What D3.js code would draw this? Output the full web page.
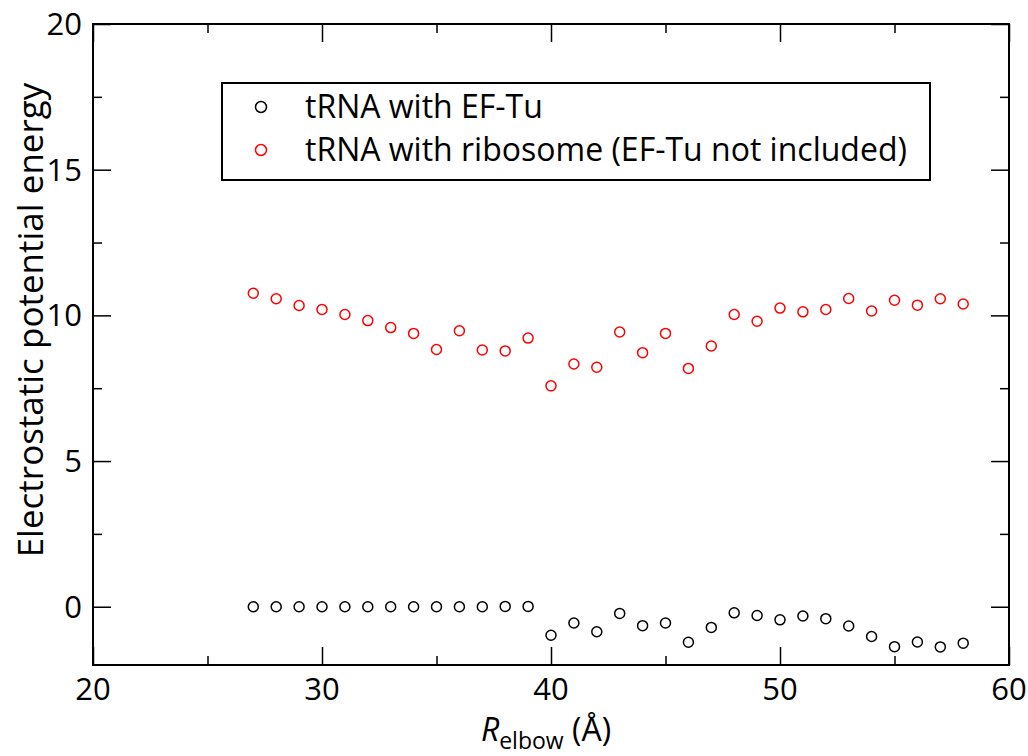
<!DOCTYPE html>
<html><head><meta charset="utf-8">
<script src="https://cdn.jsdelivr.net/npm/d3@7"></script>
<style>body{margin:0;background:#fff}svg{display:block}text{font-family:"Open Sans",sans-serif;fill:#000}</style>
</head><body>
<svg id="c" width="1028" height="756"></svg>
<script>
const rElbow = [27,28,29,30,31,32,33,34,35,36,37,38,39,40,41,42,43,44,45,46,47,48,49,50,51,52,53,54,55,56,57,58];
const efTu = [0,0,0,0,0,0,0,0,0,0,0,0.01,0.01,-0.98,-0.56,-0.86,-0.23,-0.65,-0.56,-1.22,-0.71,-0.21,-0.30,-0.45,-0.32,-0.41,-0.66,-1.02,-1.37,-1.21,-1.38,-1.25];
const ribosome = [10.76,10.57,10.34,10.20,10.03,9.82,9.58,9.38,8.83,9.47,8.81,8.78,9.22,7.58,8.33,8.22,9.43,8.72,9.38,8.18,8.95,10.03,9.80,10.25,10.12,10.20,10.58,10.15,10.52,10.35,10.57,10.39];
const xTicks = [20,30,40,50,60];
const yTicks = [0,5,10,15,20];
const seriesNames = ["tRNA with EF-Tu","tRNA with ribosome (EF-Tu not included)"];
const seriesColors = ["#000000","#ff0000"];

const svg = d3.select("#c");
const L=93, R=1009, T=24, B=665;
const x = d3.scaleLinear().domain([20,60]).range([L,R]);
const y = d3.scaleLinear().domain([-2,20]).range([B,T]);

const g = svg.append("g");
const major=18, minor=9;
function axisStyle(sel){ sel.select(".domain").remove(); sel.selectAll("line").attr("stroke","#000").attr("stroke-width",1.5); }
g.append("g").attr("transform",`translate(0,${B})`).call(d3.axisTop(x).tickValues(xTicks).tickSize(major).tickFormat("")).call(axisStyle);
g.append("g").attr("transform",`translate(0,${B})`).call(d3.axisTop(x).tickValues([25,35,45,55]).tickSize(minor).tickFormat("")).call(axisStyle);
g.append("g").attr("transform",`translate(0,${T})`).call(d3.axisBottom(x).tickValues(xTicks).tickSize(major).tickFormat("")).call(axisStyle);
g.append("g").attr("transform",`translate(0,${T})`).call(d3.axisBottom(x).tickValues([25,35,45,55]).tickSize(minor).tickFormat("")).call(axisStyle);
g.append("g").attr("transform",`translate(${L},0)`).call(d3.axisRight(y).tickValues(yTicks).tickSize(major).tickFormat("")).call(axisStyle);
g.append("g").attr("transform",`translate(${L},0)`).call(d3.axisRight(y).tickValues([2.5,7.5,12.5,17.5]).tickSize(minor).tickFormat("")).call(axisStyle);
g.append("g").attr("transform",`translate(${R},0)`).call(d3.axisLeft(y).tickValues(yTicks).tickSize(major).tickFormat("")).call(axisStyle);
g.append("g").attr("transform",`translate(${R},0)`).call(d3.axisLeft(y).tickValues([2.5,7.5,12.5,17.5]).tickSize(minor).tickFormat("")).call(axisStyle);

svg.append("rect").attr("x",L).attr("y",T).attr("width",R-L).attr("height",B-T).attr("fill","none").attr("stroke","#000").attr("stroke-width",2);

svg.selectAll(".xl").data(xTicks).enter().append("text").attr("x",d=>x(d)).attr("y",700).attr("text-anchor","middle").attr("font-size",31).text(d=>d);
svg.selectAll(".yl").data(yTicks).enter().append("text").attr("x",82).attr("y",d=>y(d)+11).attr("text-anchor","end").attr("font-size",31).text(d=>d);

svg.append("text").attr("transform","translate(43,320) rotate(-90)").attr("text-anchor","middle").attr("font-size",35).text("Electrostatic potential energy");
const xl = svg.append("text").attr("x",546).attr("y",741).attr("text-anchor","middle").attr("font-size",32);
xl.append("tspan").attr("font-style","italic").text("R");
xl.append("tspan").attr("font-size",23).attr("dy",8).text("elbow");
xl.append("tspan").attr("dy",-8).text(" (Å)");

const pts = [efTu, ribosome];
pts.forEach((vals,i)=>{
  svg.append("g").selectAll("circle").data(rElbow).enter().append("circle")
    .attr("cx",d=>x(d)).attr("cy",(d,j)=>y(vals[j])).attr("r",5)
    .attr("fill","none").attr("stroke",seriesColors[i]).attr("stroke-width",1.5);
});

svg.append("rect").attr("x",222).attr("y",83).attr("width",708).attr("height",97).attr("fill","#fff").attr("stroke","#000").attr("stroke-width",2);
seriesNames.forEach((n,i)=>{
  const yy = 107 + i*43;
  svg.append("circle").attr("cx",261).attr("cy",yy).attr("r",5.5).attr("fill","none").attr("stroke",seriesColors[i]).attr("stroke-width",1.5);
  svg.append("text").attr("x",305).attr("y",yy+11).attr("font-size",32).text(n);
});
</script>
</body></html>
